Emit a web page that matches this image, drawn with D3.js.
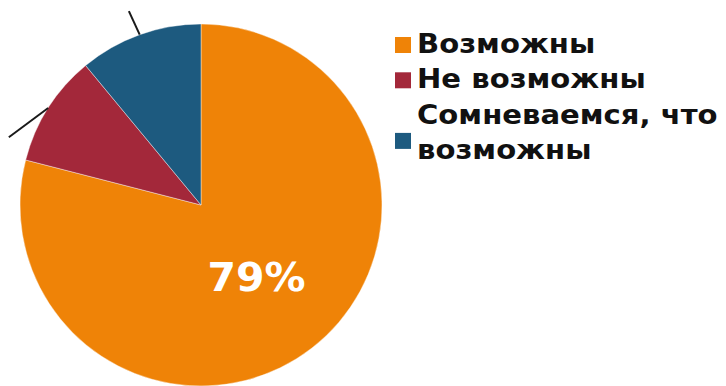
<!DOCTYPE html>
<html>
<head>
<meta charset="utf-8">
<script src="https://cdn.jsdelivr.net/npm/d3@7"></script>
<style>
  html, body { margin: 0; padding: 0; background: #fff; }
  svg { display: block; }
</style>
</head>
<body>
<svg id="chart" width="726" height="386"></svg>
<script>
// Survey answer shares, in percent
const categories = ["Возможны", "Не возможны", "Сомневаемся, что возможны"];
const values = [79, 10, 11];
const legendLines = [["Возможны"], ["Не возможны"], ["Сомневаемся, что", "возможны"]];
const colors = ["#EF8307", "#A3283A", "#1D5A7F"];

const svg = d3.select("#chart");
const cx = 201, cy = 205, R = 181;
const font = "'DejaVu Sans', Verdana, sans-serif";

const pie = d3.pie().sort(null).value(d => d.value);
const arcs = pie(categories.map((c, i) => ({ name: c, value: values[i], color: colors[i] })));
const arc = d3.arc().innerRadius(0).outerRadius(R);

const g = svg.append("g").attr("transform", `translate(${cx},${cy})`);

g.selectAll("path.slice")
  .data(arcs)
  .join("path")
  .attr("class", "slice")
  .attr("d", arc)
  .attr("fill", d => d.data.color)
  .attr("stroke", "#ffffff")
  .attr("stroke-opacity", 0.5)
  .attr("stroke-width", 0.8);

// Leader lines for the two small slices (their labels sit outside the frame)
// direction: screen angle in degrees, length in px
const leaderSpecs = [
  { index: 1, dir: 143.4, length: 49 },
  { index: 2, dir: -114.6, length: 26 }
];
leaderSpecs.forEach(s => {
  const d = arcs[s.index];
  const mid = (d.startAngle + d.endAngle) / 2;
  const x0 = Math.sin(mid) * R, y0 = -Math.cos(mid) * R;
  const t = s.dir * Math.PI / 180;
  g.append("line")
    .attr("x1", x0).attr("y1", y0)
    .attr("x2", x0 + Math.cos(t) * s.length)
    .attr("y2", y0 + Math.sin(t) * s.length)
    .attr("stroke", "#1a1a1a")
    .attr("stroke-width", 2);
});

// Value label on the largest slice
const [lx, ly] = arc.centroid(arcs[0]);
g.append("text")
  .attr("x", lx).attr("y", ly + 1)
  .attr("text-anchor", "middle")
  .attr("dominant-baseline", "central")
  .attr("font-family", font)
  .attr("font-weight", "bold")
  .attr("font-size", 39)
  .attr("fill", "#ffffff")
  .attr("transform", `translate(${lx},0) scale(1.05,1) translate(${-lx},0)`)
  .text(values[0] + "%");

// Legend
const legend = svg.append("g").attr("transform", "translate(395,0)");
const lineH = 35.3;
const firstBaseline = 53;
let row = 0;
legendLines.forEach((lines, i) => {
  const top = firstBaseline + row * lineH;
  const lastBaseline = top + (lines.length - 1) * lineH;
  legend.append("rect")
    .attr("x", 0)
    .attr("y", lastBaseline - (lines.length > 1 ? 26 : 16))
    .attr("width", 16).attr("height", 16)
    .attr("fill", colors[i]);
  lines.forEach((ln, k) => {
    legend.append("text")
      .attr("transform", `translate(22,${top + k * lineH}) scale(1.12,1)`)
      .attr("font-family", font)
      .attr("font-weight", "bold")
      .attr("font-size", 26)
      .attr("fill", "#111")
      .text(ln);
  });
  row += lines.length;
});
</script>
</body>
</html>
